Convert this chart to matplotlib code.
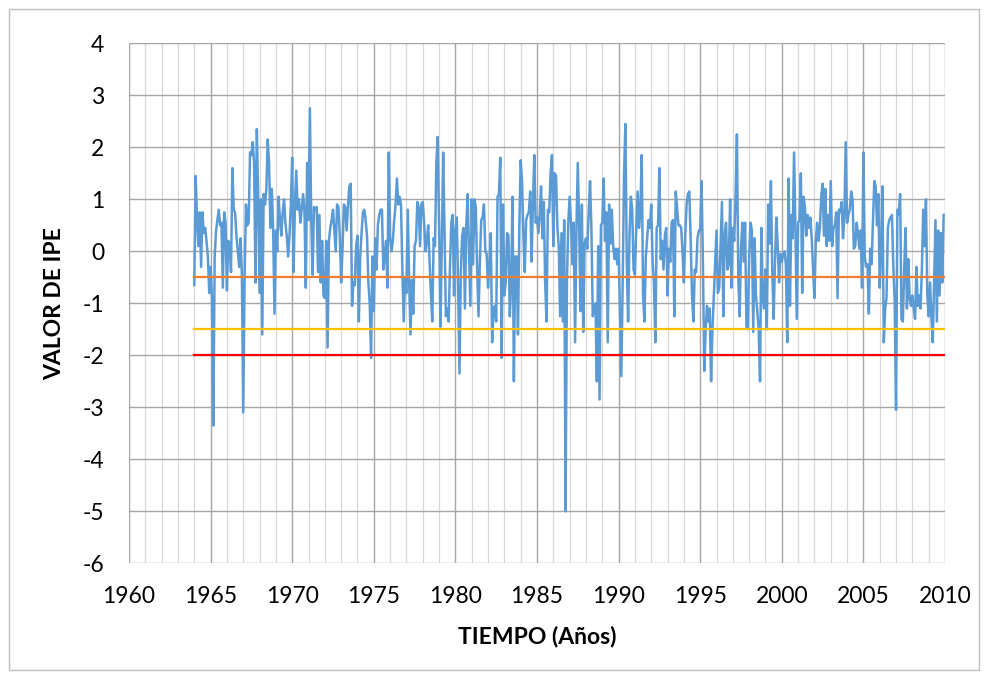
import numpy as np
import matplotlib
matplotlib.use("Agg")
import matplotlib.pyplot as plt
from matplotlib.patches import Rectangle

# Monthly IPE values, January 1964 onward
ipe_1964_1969 = [
    -0.65, 1.45, 0.6, 0.1, 0.75, -0.3, 0.75, 0.35, 0.45, 0.2, -0.1, -0.8,
    -0.3, -0.9, -3.35, -0.1, 0.4, 0.6, 0.8, 0.5, 0.55, -0.7, 0.75, 0.55,
    -0.75, 0.2, 0.15, -0.4, 1.6, 0.8, 0.75, 0.3, 0.0, -0.3, 0.25, -0.45,
    -3.1, -0.5, 0.9, 0.5, 0.55, 1.9, 1.85, 2.1, 1.7, -0.6, 2.35, 1.0,
    -0.8, 1.0, -1.6, 1.1, 0.9, 1.2, 2.15, 1.7, 0.45, 1.2, 0.4, -1.2,
    0.4, 0.0, 1.05, 0.6, 0.3, 0.75, 1.0, 0.55, 0.3, -0.1, 0.3, 0.9,
]
ipe_1970_1979 = [
    1.8, -0.4, 0.9, 1.55, 0.8, 1.0, 0.55, 0.8, 1.1, 0.8, -0.7, 1.7,
    0.6, 2.75, 0.6, -0.45, 0.85, 0.8, 0.85, -0.4, 0.7, -0.6, 0.2, -0.85,
    -0.9, 0.2, -1.85, 0.2, 0.45, 0.6, 0.8, 0.4, 0.0, 0.9, 0.85, 0.3,
    -0.6, 0.05, 0.9, 0.85, 0.4, 0.85, 1.25, 1.3, -1.05, -0.6, -0.65, 0.1,
    0.3, -1.35, -0.1, 0.35, 0.75, 0.8, 0.6, 0.3, -0.6, -1.0, -2.05, -0.1,
    -1.15, 0.25, -0.35, 0.5, 0.7, 0.8, 0.8, -0.35, -0.1, 0.2, -0.7, 1.9,
    0.25, 0.0, 0.2, 0.6, 0.9, 1.4, 0.9, 1.05, 0.9, -0.35, -1.35, -0.5,
    -0.8, 0.8, -0.6, -1.6, -0.55, -1.2, 0.1, 0.2, 0.95, 0.85, 0.1, 0.9,
    0.95, 0.55, 0.0, 0.2, 0.5, -0.2, -0.8, -1.35, 0.25, 0.1, 1.7, 2.2,
    0.5, -1.45, 0.1, 1.9, 0.4, -1.25, -1.1, -1.35, -0.3, 0.55, 0.7, -0.85,
]
ipe_1980_1989 = [
    0.4, 0.65, -0.7, -2.35, -0.4, 0.3, 0.45, -1.1, 0.5, 1.1, 0.0, -1.05,
    1.0, -0.25, 1.0, 0.85, -0.35, -1.25, -0.2, 0.6, 0.65, 0.9, 0.0, -0.05,
    -0.7, -0.25, 0.35, -1.75, -1.15, -1.05, -1.35, 1.05, 1.1, 1.8, -2.05, 0.9,
    -0.85, -0.6, 0.35, 0.3, -1.25, -0.6, 1.05, -2.5, -0.1, -0.1, -1.6, 0.45,
    1.75, 1.35, 0.3, -0.4, 0.6, 0.7, 0.75, 1.15, -0.2, 0.9, 1.85, 0.55,
    0.65, 0.35, 0.7, 1.25, 0.25, 0.95, -0.6, -1.35, 0.8, 0.75, 1.5, 1.85,
    0.1, 1.5, 1.45, 0.45, 0.1, -1.25, 0.35, -1.35, 0.6, -5.0, -0.6, 0.55,
    1.05, 0.55, -0.25, 0.55, -1.75, 0.45, 1.7, 0.45, -1.15, 0.9, -1.55, 0.15,
    0.25, 0.05, 0.75, 1.35, 0.45, -1.25, -1.1, -1.0, -2.5, 0.1, -2.85, 0.5,
    0.55, 1.4, 0.2, 0.75, -1.75, 0.9, 0.15, 0.8, 0.1, -0.15, 0.05, -0.25,
]
ipe_1990_1999 = [
    0.05, -1.15, -2.4, -0.6, 1.45, 2.45, -0.2, -1.35, 0.3, 1.05, 0.8, -0.35,
    -0.45, 0.5, 1.15, 0.45, 0.75, 1.85, -0.85, -1.35, -0.1, 0.25, 0.6, 0.45,
    0.9, -0.2, -0.6, -1.75, 0.45, 0.5, 1.6, -0.15, 0.2, -0.35, 0.3, 0.45,
    -0.85, 0.05, -0.2, 0.55, 0.6, -1.25, 1.15, 0.85, 0.5, 0.5, 0.45, 0.0,
    -0.6, 0.3, 0.9, 1.1, 1.15, 0.2, -0.85, -1.35, -0.35, -0.4, 0.25, 0.4,
    0.4, 1.35, -0.2, -2.3, -1.5, -1.05, -1.35, -1.1, -2.5, -1.5, -0.85, -0.2,
    0.4, -0.8, -0.7, 0.1, 0.95, -1.25, 0.3, 0.55, -0.35, -0.25, 1.0, -0.7,
    0.45, 0.2, 1.05, 2.25, -0.5, -1.25, 0.05, 0.55, -0.2, 0.55, -1.45, -1.5,
    -0.1, 0.55, 0.4, -1.55, 0.25, -0.85, -1.15, -1.5, -2.5, 0.45, -0.9, -1.1,
    -0.35, -1.5, 0.9, 0.15, 1.35, -0.4, -1.3, -0.2, 0.65, 0.1, -0.6, -0.05,
]
ipe_2000_2009 = [
    -0.2, -0.05, 0.0, -0.25, -1.75, 1.4, -1.05, 0.7, 0.25, 1.9, 0.45, -1.3,
    0.55, 0.6, 1.5, -0.8, 1.05, 0.85, 0.3, 0.7, 0.45, 0.65, 0.25, -0.35,
    -0.9, 0.2, 0.55, 0.2, 0.45, 1.05, 1.3, 0.3, 1.2, 0.1, 0.7, 0.2,
    1.35, 0.1, 0.45, 0.5, 0.75, -0.9, 0.8, 0.75, 0.95, 0.25, 0.65, 2.1,
    0.55, 0.7, 0.8, 1.15, 1.0, 0.05, 0.1, 0.55, 0.35, 0.05, 0.4, -0.7,
    1.9, -0.1, -0.3, -0.25, -1.2, 0.05, -0.25, 0.55, 1.35, 1.25, 0.5, 1.1,
    -0.7, 0.0, 1.25, -1.75, -1.1, -0.9, 0.45, 0.6, 0.65, 0.7, -0.3, -0.95,
    -3.05, 0.8, 0.7, 1.1, -1.3, -1.35, -0.35, 0.45, -1.1, -0.15, -0.9, -1.05,
    -0.85, -1.1, -1.3, -0.3, -1.05, -0.85, -1.1, -0.35, 0.8, 0.1, 1.0, -0.85,
    -1.25, -0.6, -1.25, -1.75, -0.6, 0.6, -1.35, 0.4, -0.85, 0.35, -0.6, 0.7,
]

start_year = 1964
end_year = 2010

# Drought thresholds (value, colour)
thresholds = [-0.5, -1.5, -2.0]
threshold_colors = ["#ED7D31", "#FFC000", "#FF0000"]

ipe = np.array(ipe_1964_1969 + ipe_1970_1979 + ipe_1980_1989
               + ipe_1990_1999 + ipe_2000_2009)
t = start_year + np.arange(len(ipe)) / 12.0

plt.rcParams["font.family"] = ["Lato", "DejaVu Sans"]
plt.rcParams["axes.unicode_minus"] = False

fig = plt.figure(figsize=(9.86, 6.78), dpi=100)
ax = fig.add_axes([129 / 986, 1 - 563.3 / 678, (945 - 129) / 986, (563.3 - 43.3) / 678])

# Outer chart frame
fig.patches.append(Rectangle((8.5 / 986, 1 - 669.5 / 678), 970 / 986, 661 / 678,
                             transform=fig.transFigure, fill=False,
                             edgecolor="#BFBFBF", linewidth=1.0))

ax.set_xlim(1960, 2010)
ax.set_ylim(-6, 4)

# Yearly vertical grid, darker every five years; horizontal grid at each unit
for yr in range(1960, 2011):
    major = yr % 5 == 0
    ax.axvline(yr, color="#A6A6A6" if major else "#D9D9D9",
               linewidth=1.0 if major else 0.9, zorder=0)
for yv in range(-6, 5):
    ax.axhline(yv, color="#A6A6A6", linewidth=1.0, zorder=0)

ax.plot(t, ipe, color="#5B9BD5", linewidth=1.8, zorder=3, solid_joinstyle="round")
for val, col in zip(thresholds, threshold_colors):
    ax.plot([start_year, end_year], [val, val], color=col, linewidth=1.6, zorder=4)

for s in ax.spines.values():
    s.set_visible(False)

ax.set_xticks(range(1960, 2011, 5))
ax.set_yticks(range(-6, 5))
ax.tick_params(axis="both", length=0, labelsize=16.5, colors="black")
ax.tick_params(axis="x", pad=16)
ax.tick_params(axis="y", pad=18)

ax.set_xlabel("TIEMPO (Años)", fontsize=16.5, fontweight="bold", labelpad=14)
ax.set_ylabel("VALOR DE IPE", fontsize=16.5, fontweight="bold", labelpad=12)

fig.savefig("out.png", dpi=100)
